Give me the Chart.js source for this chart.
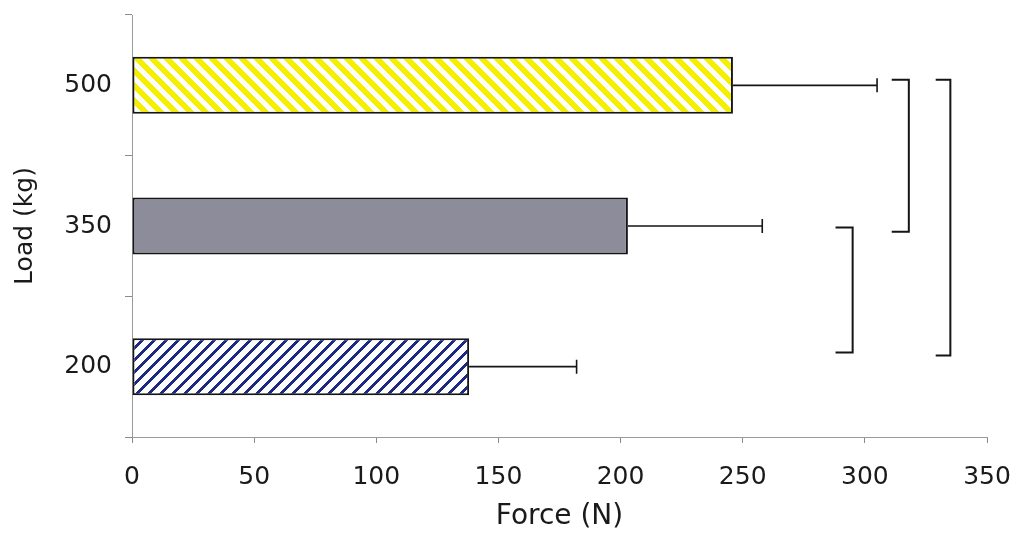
<!DOCTYPE html>
<html>
<head>
<meta charset="utf-8">
<script src="https://cdn.jsdelivr.net/npm/chart.js@4/dist/chart.umd.min.js"></script>
<style>
  html, body { margin: 0; padding: 0; background: #fff; }
  #wrap { width: 1016px; height: 537px; }
</style>
</head>
<body>
<div id="wrap"><canvas id="myChart" width="1016" height="537"></canvas></div>
<script>
// load categories (top to bottom) and mean force with + error
var loads = ['500', '350', '200'];
var force = [246, 203, 138];
var forceErr = [59, 55, 44];
var forceTicks = [0, 50, 100, 150, 200, 250, 300, 350];

// significance brackets: top / bottom in category units, arm start and spine in N
var bracketTop = [-0.04, -0.04, 1.01];
var bracketBottom = [1.04, 1.92, 1.9];
var bracketArm = [311, 329, 288];
var bracketX = [318, 335, 295];

// hatch tile, filled pixel by pixel so the stripes join cleanly
function stripes(color, period, width, dir) {
    var c = document.createElement('canvas');
    c.width = period;
    c.height = period;
    var g = c.getContext('2d');
    g.fillStyle = '#fff';
    g.fillRect(0, 0, period, period);
    g.fillStyle = color;
    for (var y = 0; y < period; y++) {
        for (var x = 0; x < period; x++) {
            var d = dir === '/' ? (x + y) % period : ((x - y) % period + period) % period;
            if (d < width) g.fillRect(x, y, 1, 1);
        }
    }
    return g.createPattern(c, 'repeat');
}

var fills = [
    stripes('#f5ef00', 15, 8, '\\'),
    '#8d8c9b',
    stripes('#1c2a86', 12, 4, '/')
];

var errorsAndBrackets = {
    id: 'errorsAndBrackets',
    afterDatasetsDraw: function (chart) {
        var ctx = chart.ctx;
        var xs = chart.scales.x;
        var ys = chart.scales.y;
        var bars = chart.getDatasetMeta(0).data;
        ctx.save();
        ctx.strokeStyle = '#151515';
        ctx.lineWidth = 1.6;
        bars.forEach(function (bar, i) {
            var x0 = xs.getPixelForValue(force[i]);
            var x1 = xs.getPixelForValue(force[i] + forceErr[i]);
            ctx.beginPath();
            ctx.moveTo(x0, bar.y);
            ctx.lineTo(x1, bar.y);
            ctx.moveTo(x1, bar.y - 7);
            ctx.lineTo(x1, bar.y + 7);
            ctx.stroke();
        });
        ctx.lineWidth = 2;
        for (var i = 0; i < bracketX.length; i++) {
            var xa = xs.getPixelForValue(bracketArm[i]);
            var xb = xs.getPixelForValue(bracketX[i]);
            var yt = ys.getPixelForValue(bracketTop[i]);
            var yb = ys.getPixelForValue(bracketBottom[i]);
            ctx.beginPath();
            ctx.moveTo(xa, yt);
            ctx.lineTo(xb, yt);
            ctx.lineTo(xb, yb);
            ctx.lineTo(xa, yb);
            ctx.stroke();
        }
        ctx.restore();
    }
};

var ctx = document.getElementById('myChart').getContext('2d');
var myChart = new Chart(ctx, {
    type: 'bar',
    data: {
        labels: loads,
        datasets: [{
            data: force,
            backgroundColor: fills,
            borderColor: '#151515',
            borderWidth: 2,
            borderSkipped: false,
            barPercentage: 0.405,
            categoryPercentage: 1
        }]
    },
    options: {
        indexAxis: 'y',
        responsive: false,
        animation: false,
        layout: { padding: { top: 15, right: 29, left: 0, bottom: 0 } },
        plugins: {
            legend: { display: false },
            tooltip: { enabled: false }
        },
        scales: {
            x: {
                min: 0,
                max: 350,
                afterBuildTicks: function (scale) {
                    scale.ticks = forceTicks.map(function (v) { return { value: v }; });
                },
                afterFit: function (scale) {
                    scale.height = 100;
                    scale.paddingLeft = 0;
                    scale.paddingRight = 0;
                },
                grid: { drawOnChartArea: false, tickLength: 6, color: '#8a8a8a' },
                border: { color: '#9a9a9a', width: 1 },
                ticks: {
                    padding: 19,
                    color: '#1a1a1a',
                    font: { family: 'DejaVu Sans', size: 25 }
                },
                title: {
                    display: true,
                    text: 'Force (N)',
                    color: '#1a1a1a',
                    padding: { top: 0, bottom: 3 },
                    font: { family: 'DejaVu Sans', size: 28 }
                }
            },
            y: {
                afterFit: function (scale) {
                    scale.width = 132;
                    scale.paddingTop = 0;
                    scale.paddingBottom = 0;
                },
                grid: { drawOnChartArea: false, tickLength: 7, color: '#8a8a8a' },
                border: { color: '#9a9a9a', width: 1 },
                ticks: {
                    padding: 13,
                    color: '#1a1a1a',
                    font: { family: 'DejaVu Sans', size: 25 }
                },
                title: {
                    display: true,
                    text: 'Load (kg)',
                    color: '#1a1a1a',
                    padding: { top: 10, bottom: 0 },
                    font: { family: 'DejaVu Sans', size: 25 }
                }
            }
        }
    },
    plugins: [errorsAndBrackets]
});
</script>
</body>
</html>
